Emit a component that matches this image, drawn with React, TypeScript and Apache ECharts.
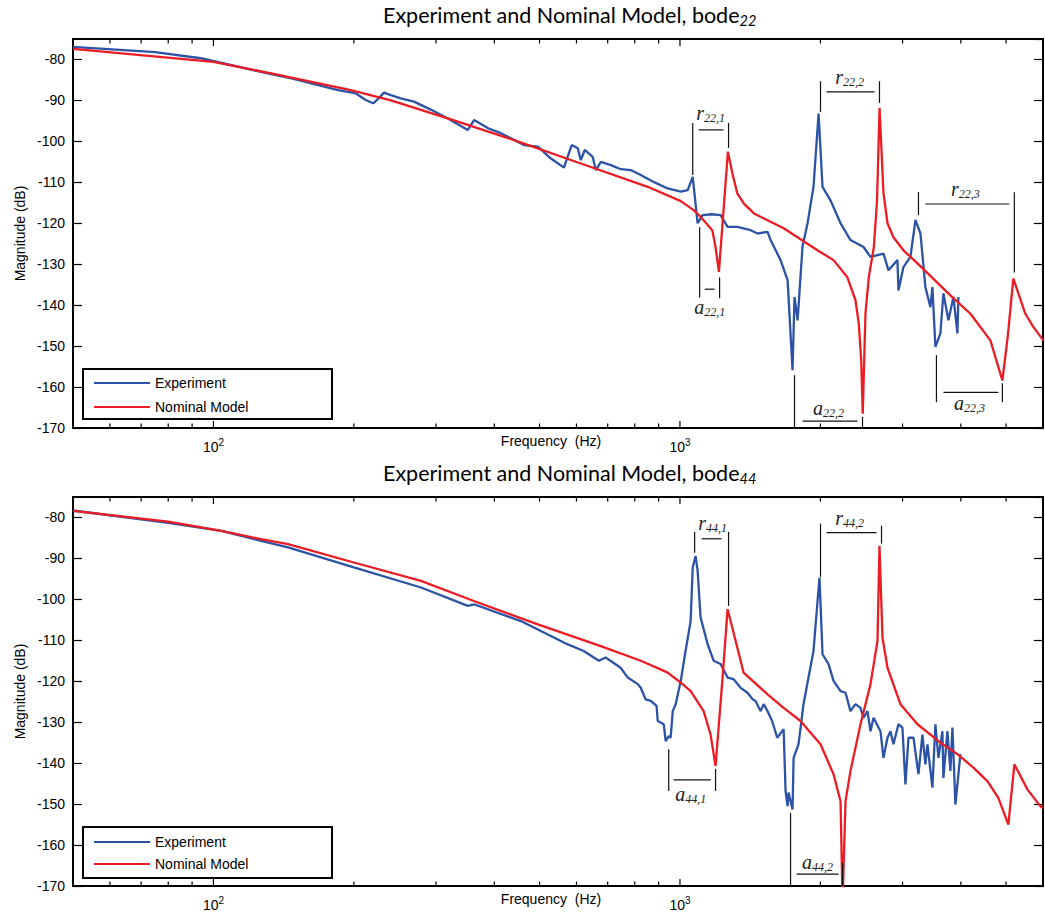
import React, { useEffect, useRef } from 'react';
import * as echarts from 'echarts';

// ---------- axis ranges ----------
const FREQ_MIN = 50;
const FREQ_MAX = 6000;
const DB_MIN = -170;
const DB_MAX = -75;
const DB_STEP = 10;

// x-axis tick frequencies (decades get a longer tick and a 10^n label)
const xTickFreqs = [60, 70, 80, 90, 100, 200, 300, 400, 500, 600, 700, 800, 900, 1000, 2000, 3000, 4000, 5000];

// ---------- bode22 ----------
const experiment22: [number, number][] = [
  [50, -76.9], [75, -78.2], [94, -79.7], [133, -83.6], [147, -84.6], [185, -87.5], [202, -88.3], [212, -89.9],
  [220, -90.7], [226, -89.5], [232, -88.1], [240, -88.7], [252, -89.5], [269, -90.3], [293, -92.3], [318, -94.4],
  [351, -97.2], [362, -94.8], [388, -96.8], [413, -98], [463, -100.9], [496, -101.3], [529, -104.2], [564, -106.4],
  [586, -100.9], [604, -101.7], [613, -104.6], [625, -102.1], [650, -103.8], [660, -107], [677, -105], [711, -105.8],
  [747, -106.8], [784, -107], [824, -108.2], [878, -109.9], [941, -111.5], [1004, -112.3], [1039, -111.9],
  [1065, -108.7], [1091, -120], [1118, -118], [1170, -117.8], [1222, -118], [1265, -120.9], [1329, -120.9],
  [1417, -121.7], [1467, -122.5], [1541, -122.1], [1564, -124.1], [1643, -129], [1701, -133.9], [1743, -155.9],
  [1760, -138], [1787, -143.7], [1831, -125.7], [1877, -120], [1933, -111.1], [1982, -93.2], [2021, -111.1],
  [2102, -114.4], [2209, -120], [2320, -124.1], [2474, -125.8], [2561, -128.2], [2730, -127.4], [2799, -131.5],
  [2925, -129], [2940, -136.4], [3013, -130.7], [3119, -128.2], [3197, -119.2], [3277, -122.5], [3358, -135.6],
  [3442, -140.5], [3476, -135.6], [3528, -150.2], [3616, -146.9], [3670, -137.1], [3762, -143.7], [3856, -138],
  [3933, -146.9], [3952, -138],
];

const model22: [number, number][] = [
  [50, -77.4], [100, -80.6], [133, -83.4], [197, -87.5], [240, -90.0], [318, -94.4], [441, -99.7], [613, -105.4],
  [853, -111.1], [1004, -114.6], [1070, -116.8], [1107, -118.4], [1173, -121.7], [1192, -125.8], [1212, -131.9],
  [1267, -102.5], [1295, -107.8], [1327, -112.7], [1371, -115.2], [1441, -117.6], [1668, -121.2], [1971, -126.6],
  [2134, -129.0], [2283, -133.1], [2378, -138.8], [2417, -144.5], [2446, -153.5], [2465, -166.5], [2498, -142],
  [2540, -133.1], [2604, -125.8], [2645, -114.4], [2678, -91.8], [2730, -112.6], [2785, -120], [2868, -123.4],
  [3013, -126.6], [3229, -129.8], [3799, -137.6], [4194, -142.1], [4628, -148.6], [4910, -158.4], [5040, -147.8],
  [5183, -133.5], [5500, -142.1], [5720, -145.3], [6009, -148.6],
];

// ---------- bode44 ----------
const experiment44: [number, number][] = [
  [50, -78.3], [80, -81.3], [104, -83.3], [126.5, -85.7], [144.5, -87.3], [200, -92.2], [278.5, -97.1], [351, -101.6],
  [362, -101.2], [456, -105.3], [575, -111], [622, -112.6], [670, -115], [693, -114.2], [746, -116.7], [773, -119.1],
  [812, -120.7], [824, -121.6], [844, -124.4], [866, -124.8], [891, -126], [896, -129.7], [923, -130.5], [932, -134.6],
  [946, -133.4], [955, -133.8], [965, -127.3], [979, -125.6], [1004, -119.9], [1028, -112.6], [1054, -105.3],
  [1065, -92.2], [1080, -89.4], [1091, -93], [1107, -104.4], [1146, -110.9], [1181, -115], [1222, -115.8],
  [1265, -119.1], [1303, -119.5], [1349, -121.6], [1396, -122.8], [1431, -124.4], [1452, -124.8], [1489, -127.3],
  [1511, -125.6], [1541, -127.3], [1576, -129.7], [1616, -133.8], [1668, -131.7], [1684, -146.8], [1701, -150.5],
  [1709, -147.2], [1743, -151.3], [1752, -138.7], [1795, -135.4], [1840, -125.6], [1877, -120.3], [1933, -112.6],
  [1972, -100.4], [1991, -94.7], [2021, -113.4], [2082, -115.8], [2134, -119.9], [2209, -122.4], [2264, -122.8],
  [2320, -127.3], [2378, -125.6], [2438, -126.5], [2474, -128.9], [2523, -127.3], [2561, -132.2], [2599, -128.9],
  [2690, -132.2], [2730, -138.7], [2785, -133.8], [2826, -132.2], [2868, -135.4], [2940, -130.5], [2998, -131.3],
  [3043, -145.2], [3089, -133.8], [3166, -133.8], [3245, -142.7], [3309, -133], [3358, -140.3], [3392, -135.4],
  [3476, -146], [3528, -130.5], [3581, -138.7], [3652, -132.2], [3670, -143.6], [3743, -132.2], [3799, -141.9],
  [3837, -131.3], [3894, -150.1], [3991, -137.8],
];

const model44: [number, number][] = [
  [50, -78.4], [80, -81], [104, -83.3], [126.5, -85.3], [144.5, -86.5], [200, -91], [278.5, -95.5], [361.6, -100.4],
  [495.8, -106.1], [676.5, -111.4], [823.9, -115], [909, -117.1], [941, -117.9], [1003.5, -120.3], [1054, -122.4],
  [1124, -127.3], [1163, -133], [1192, -140.7], [1234, -119.1], [1265, -102.4], [1316, -110.1], [1369, -117.9],
  [1541, -123.2], [1668, -126.5], [1813, -129.7], [2001, -135.4], [2134, -142.7], [2209, -149.3], [2231, -174],
  [2264, -149.3], [2320, -141.9], [2438, -130.5], [2561, -120.7], [2651, -110.1], [2677, -86.9], [2717, -109.3],
  [2785, -116.7], [2969, -125.6], [3229, -130.5], [3616, -135], [3933, -137.8], [4256, -141.1], [4560, -144.4],
  [4813, -148.5], [5057, -155], [5209, -140.3], [5555, -146.4], [5921, -150.5], [6009, -151],
];

// ---------- annotations (data coordinates: [f1, dB1, f2, dB2]) ----------
type Annot = { sym: string; sub: string; label: [number, number]; segs: [number, number, number, number][] };

const annotations22: Annot[] = [
  { sym: 'r', sub: '22,1', label: [1163, -93.1], segs: [[1065, -95.5, 1065, -108.2], [1271, -95.5, 1271, -101.6], [1096, -97.2, 1240, -97.2]] },
  { sym: 'a', sub: '22,1', label: [1158, -140.5], segs: [[1102, -121, 1102, -138.1], [1216, -133.2, 1216, -138.3], [1130, -136.1, 1186, -136.1]] },
  { sym: 'r', sub: '22,2', label: [2309, -84.3], segs: [[2001, -85.3, 2001, -92.8], [2677, -85.3, 2677, -90.6], [2061, -87.9, 2612, -87.9]] },
  { sym: 'a', sub: '22,2', label: [2082, -165], segs: [[1760, -157.1, 1760, -170], [2462, -167.3, 2462, -170], [1831, -168.3, 2402, -168.3]] },
  { sym: 'r', sub: '22,3', label: [4091, -111.7], segs: [[3245, -112.4, 3245, -118], [5209, -112.4, 5209, -132], [3358, -115.3, 5082, -115.3]] },
  { sym: 'a', sub: '22,3', label: [4173, -164], segs: [[3546, -152.2, 3546, -163.7], [4910, -159.1, 4910, -163.7], [3670, -161.3, 4813, -161.3]] },
];

const annotations44: Annot[] = [
  { sym: 'r', sub: '44,1', label: [1175, -81.3], segs: [[1075, -83.5, 1075, -88.6], [1271, -83.5, 1271, -101.6], [1113, -85.2, 1228, -85.2]] },
  { sym: 'a', sub: '44,1', label: [1054, -147.6], segs: [[946, -136.6, 946, -146.8], [1192, -141.4, 1192, -146.8], [969, -144.1, 1163, -144.1]] },
  { sym: 'r', sub: '44,2', label: [2309, -80.1], segs: [[2001, -81.5, 2001, -94.5], [2704, -82, 2704, -86.4], [2061, -83.7, 2638, -83.7]] },
  { sym: 'a', sub: '44,2', label: [1972, -164.2], segs: [[1726, -152.2, 1726, -170], [2231, -164.4, 2231, -170], [1778, -167.1, 2187, -167.1]] },
];

const TITLE_MAIN = 'Experiment and Nominal Model, bode';
const TITLE_SUBS = ['22', '44'];
const SERIES_NAMES = ['Experiment', 'Nominal Model'];

const SANS = 'Liberation Sans, Arial, sans-serif';
const SERIF = 'Liberation Serif, Times New Roman, serif';
const BLUE = '#2c53a6';
const RED = '#ec1c24';

function buildOption() {
  const grids = [
    { left: 73, top: 39, width: 970, height: 389 },
    { left: 73, top: 497, width: 970, height: 389 },
  ];

  const isDecade = (v: number) => Math.abs(Math.log10(v) - Math.round(Math.log10(v))) < 1e-6;

  const xAxes = grids.map((_, i) => ({
    type: 'log',
    logBase: 10,
    gridIndex: i,
    min: FREQ_MIN,
    max: FREQ_MAX,
    axisLine: { show: false },
    axisTick: { show: false },
    splitLine: { show: false },
    minorSplitLine: { show: false },
    name: 'Frequency  (Hz)',
    nameLocation: 'middle',
    nameGap: 6,
    nameMoveOverlap: false,
    nameTextStyle: { fontFamily: SANS, fontSize: 14, color: '#000', padding: [0, 14, 0, 0] },
    axisLabel: {
      showMinLabel: false,
      showMaxLabel: false,
      margin: 9,
      formatter: (v: number) => (isDecade(v) ? `{b|10}{s|${Math.round(Math.log10(v))}}` : ''),
      rich: {
        b: { fontFamily: SANS, fontSize: 14, color: '#000', lineHeight: 20 },
        s: { fontFamily: SANS, fontSize: 10, color: '#000', lineHeight: 8, verticalAlign: 'top' },
      },
    },
  }));

  const yAxes: any[] = [];
  grids.forEach((_, i) => {
    yAxes.push({
      type: 'value',
      gridIndex: i,
      min: DB_MIN,
      max: DB_MAX,
      interval: DB_STEP,
      axisLine: { show: false },
      axisTick: { show: true, inside: true, length: 9, lineStyle: { color: '#000', width: 1.2 } },
      splitLine: { show: false },
      name: 'Magnitude (dB)',
      nameLocation: 'middle',
      nameGap: 46,
      nameMoveOverlap: false,
      nameTextStyle: { fontFamily: SANS, fontSize: 14, color: '#000' },
      axisLabel: { showMaxLabel: false, margin: 8, fontFamily: SANS, fontSize: 14, color: '#000' },
    });
    yAxes.push({
      type: 'value',
      gridIndex: i,
      position: 'right',
      min: DB_MIN,
      max: DB_MAX,
      interval: DB_STEP,
      axisLine: { show: false },
      axisTick: { show: true, inside: true, length: 9, lineStyle: { color: '#000', width: 1.2 } },
      splitLine: { show: false },
      axisLabel: { show: false },
    });
  });

  const tickSeries = (i: number) => ({
    type: 'custom',
    xAxisIndex: i,
    yAxisIndex: i * 2,
    silent: true,
    z: 5,
    data: xTickFreqs.map((f) => [f, DB_MIN]),
    encode: { x: 0, y: 1 },
    renderItem: (params: any, api: any) => {
      const f = xTickFreqs[params.dataIndex];
      const b = api.coord([f, DB_MIN]);
      const t = api.coord([f, DB_MAX]);
      const len = isDecade(f) ? 7 : 4.5;
      return {
        type: 'group',
        children: [
          { type: 'line', shape: { x1: b[0], y1: b[1], x2: b[0], y2: b[1] - len }, style: { stroke: '#000', lineWidth: 1.2 } },
          { type: 'line', shape: { x1: t[0], y1: t[1], x2: t[0], y2: t[1] + len }, style: { stroke: '#000', lineWidth: 1.2 } },
        ],
      };
    },
  });

  const annotSeries = (i: number, list: Annot[]) => ({
    type: 'custom',
    xAxisIndex: i,
    yAxisIndex: i * 2,
    silent: true,
    z: 6,
    data: list.map((a) => a.label),
    encode: { x: 0, y: 1 },
    renderItem: (params: any, api: any) => {
      const a = list[params.dataIndex];
      const children: any[] = a.segs.map((s) => {
        const p1 = api.coord([s[0], s[1]]);
        const p2 = api.coord([s[2], s[3]]);
        return {
          type: 'line',
          shape: { x1: p1[0], y1: p1[1], x2: p2[0], y2: p2[1] },
          style: { stroke: '#111', lineWidth: 1.2 },
        };
      });
      const lp = api.coord(a.label);
      children.push({
        type: 'text',
        x: lp[0],
        y: lp[1],
        style: {
          text: `{m|${a.sym}}{s|${a.sub}}`,
          align: 'center',
          verticalAlign: 'middle',
          rich: {
            m: { fontFamily: SERIF, fontStyle: 'italic', fontSize: 20, fill: '#222', lineHeight: 22 },
            s: { fontFamily: SERIF, fontStyle: 'italic', fontSize: 12, fill: '#222', lineHeight: 12, verticalAlign: 'bottom' },
          },
        },
      });
      return { type: 'group', children };
    },
  });

  const lineSeries = (i: number, name: string, data: [number, number][], color: string) => ({
    type: 'line',
    name,
    xAxisIndex: i,
    yAxisIndex: i * 2,
    data,
    showSymbol: false,
    symbol: 'none',
    smooth: false,
    clip: true,
    z: 3,
    lineStyle: { color, width: 2.3 },
    itemStyle: { color },
  });

  const titleTops = [2, 460];
  const legendTops = [376, 835];
  const legendGaps = [10, 8];
  const legendBoxes = [
    { x: 83, y: 369, w: 249, h: 50 },
    { x: 83, y: 827, w: 249, h: 51 },
  ];

  return {
    animation: false,
    backgroundColor: '#fff',
    title: TITLE_SUBS.map((sub, i) => ({
      text: `{a|${TITLE_MAIN}}{b|${sub}}`,
      left: 383,
      top: titleTops[i],
      padding: 0,
      textStyle: {
        fontWeight: 'normal',
        rich: {
          a: { fontFamily: 'Lato, sans-serif', fontSize: 21.5, fontWeight: 'normal', color: '#000', lineHeight: 26 },
          b: { fontFamily: 'Lato, sans-serif', fontSize: 14.5, fontWeight: 'normal', fontStyle: 'italic', color: '#000', lineHeight: 14, verticalAlign: 'bottom' },
        },
      },
    })),
    legend: legendTops.map((top, i) => ({
      data: SERIES_NAMES,
      orient: 'vertical',
      left: 94,
      top,
      padding: 0,
      itemWidth: 56,
      itemHeight: 2,
      icon: 'rect',
      itemGap: legendGaps[i],
      selectedMode: false,
      z: 20,
      textStyle: { fontFamily: SANS, fontSize: 14, color: '#000' },
    })),
    graphic: legendBoxes.map((b) => ({
      type: 'rect',
      z: 15,
      shape: { x: b.x, y: b.y, width: b.w, height: b.h },
      style: { fill: '#fff', stroke: '#000', lineWidth: 2 },
    })),
    grid: grids.map((g) => ({ ...g, show: true, borderColor: '#000', borderWidth: 2, backgroundColor: 'transparent' })),
    xAxis: xAxes,
    yAxis: yAxes,
    series: [
      lineSeries(0, SERIES_NAMES[0], experiment22, BLUE),
      lineSeries(0, SERIES_NAMES[1], model22, RED),
      lineSeries(1, SERIES_NAMES[0], experiment44, BLUE),
      lineSeries(1, SERIES_NAMES[1], model44, RED),
      tickSeries(0),
      tickSeries(1),
      annotSeries(0, annotations22),
      annotSeries(1, annotations44),
    ],
  };
}

export default function App() {
  const ref = useRef<HTMLDivElement>(null);
  useEffect(() => {
    if (!ref.current) return;
    const chart = echarts.init(ref.current, undefined, { renderer: 'svg' });
    chart.setOption(buildOption() as any);
    return () => chart.dispose();
  }, []);
  return (
    <div
      ref={ref}
      style={{ position: 'absolute', left: 0, top: 0, width: 1045, height: 920, background: '#fff' }}
    />
  );
}
